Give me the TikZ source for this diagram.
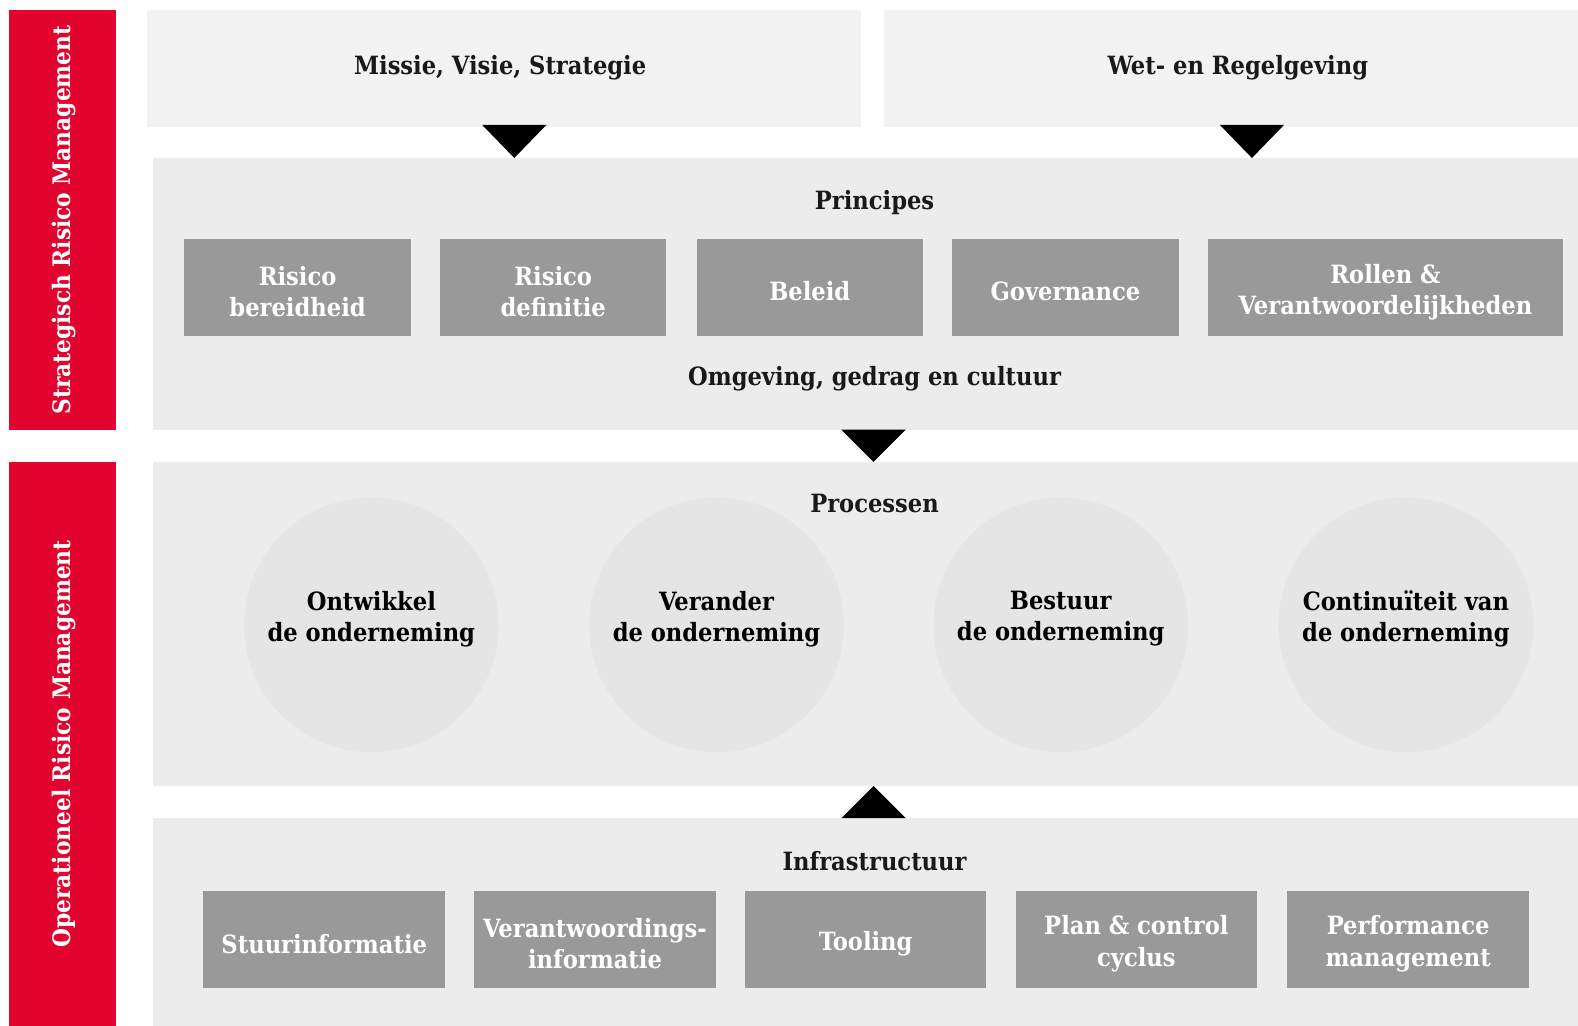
\documentclass[tikz,border=0pt]{standalone}
\usepackage{fontspec}
\setmainfont{DejaVu Serif Condensed}[BoldFont={DejaVu Serif Condensed Bold}]
\usetikzlibrary{positioning}

\definecolor{srmred}{HTML}{E2042E}
\definecolor{toppanel}{HTML}{F2F2F2}
\definecolor{panel}{HTML}{ECECEC}
\definecolor{blok}{HTML}{999999}
\definecolor{rondje}{HTML}{E5E5E5}

\tikzset{
  bar/.style={fill=srmred,inner sep=0pt,anchor=north west},
  bartext/.style={text=white,font=\bfseries\fontsize{24}{29}\selectfont,rotate=90},
  vlak/.style={fill=panel,inner sep=0pt,anchor=north west},
  kop/.style={font=\bfseries\fontsize{25}{30}\selectfont,text=black!90},
  blokje/.style={fill=blok,inner sep=0pt,anchor=north west,minimum height=97pt,text=white,align=center,font=\bfseries\fontsize{25}{31}\selectfont},
  bloktekst/.style={text=white,align=center,font=\bfseries\fontsize{25}{31}\selectfont},
  proces/.style={circle,fill=rondje,minimum size=253pt,inner sep=0pt},
  procestekst/.style={align=center,font=\bfseries\fontsize{25}{31}\selectfont},
  pijl/.style={fill=black}
}

\begin{document}
\begin{tikzpicture}[x=1pt,y=-1pt]
\useasboundingbox (0,0) rectangle (1568,1019);
% red side bars
\node[bar,minimum width=106pt,minimum height=417pt](srm) at (9,10){};
\node[bartext] at ([xshift=1pt]srm.center){Strategisch Risico Management};
\node[bar,minimum width=106pt,minimum height=560pt](orm) at (9,459){};
\node[bartext] at ([xshift=1pt]orm.center){Operationeel Risico Management};
% top boxes
\node[vlak,fill=toppanel,minimum width=709pt,minimum height=116pt](missie) at (146,10){};
\node[kop] at (497,67){Missie, Visie, Strategie};
\node[vlak,fill=toppanel,minimum width=690pt,minimum height=116pt](wet) at (878,10){};
\node[kop] at (1230,67){Wet- en Regelgeving};
% panels
\node[vlak,minimum width=1416pt,minimum height=270pt](principes) at (152,157){};
\node[vlak,minimum width=1416pt,minimum height=322pt](processen) at (152,459){};
\node[vlak,minimum width=1416pt,minimum height=206pt](infra) at (152,813){};
% triangles
\fill[pijl] (479,124) -- (543,124) -- (511,157) -- cycle;
\fill[pijl] (1212,124) -- (1276,124) -- (1244,157) -- cycle;
\fill[pijl] (836,427) -- (900,427) -- (868,459) -- cycle;
\fill[pijl] (836,813) -- (900,813) -- (868,781) -- cycle;
% principes
\node[kop](ptitel) at (869,201){Principes};
\node[blokje,minimum width=225pt](p1) at (183,237){};
\node[blokje,minimum width=225pt](p2) at (437,237){};
\node[blokje,minimum width=225pt](p3) at (692,237){};
\node[blokje,minimum width=225pt](p4) at (946,237){};
\node[blokje,minimum width=353pt](p5) at (1200,237){};
\node[bloktekst] at ([yshift=-4pt]p1.center){Risico\\bereidheid};
\node[bloktekst] at ([yshift=-4pt]p2.center){Risico\\definitie};
\node[bloktekst] at ([yshift=-4pt]p3.center){Beleid};
\node[bloktekst] at ([yshift=-4pt]p4.center){Governance};
\node[bloktekst] at ([yshift=-5pt]p5.center){Rollen \&\\Verantwoordelijkheden};
\node[kop](omgeving) at (869,376){Omgeving, gedrag en cultuur};
% processen
\node[kop](prtitel) at (869,500){Processen};
\node[proces](c1) at (369,621){};
\node[proces](c2) at (712,621){};
\node[proces](c3) at (1054,621){};
\node[proces](c4) at (1397,621){};
\node[procestekst] at ([yshift=6pt]c1.center){Ontwikkel\\de onderneming};
\node[procestekst] at ([yshift=6pt]c2.center){Verander\\de onderneming};
\node[procestekst] at ([yshift=6pt]c3.center){Bestuur\\de onderneming};
\node[procestekst] at ([yshift=6pt]c4.center){Continuïteit van\\de onderneming};
% infrastructuur
\node[kop](ititel) at (869,856){Infrastructuur};
\node[blokje,minimum width=240pt](i1) at (202,885){};
\node[blokje,minimum width=240pt](i2) at (471,885){};
\node[blokje,minimum width=240pt](i3) at (740,885){};
\node[blokje,minimum width=240pt](i4) at (1009,885){};
\node[blokje,minimum width=240pt](i5) at (1279,885){};
\node[bloktekst] at ([yshift=-4pt]i1.center){Stuurinformatie};
\node[bloktekst] at ([yshift=-4pt]i2.center){Verantwoordings-\\informatie};
\node[bloktekst] at ([yshift=-4pt]i3.center){Tooling};
\node[bloktekst] at ([yshift=-4pt]i4.center){Plan \& control\\cyclus};
\node[bloktekst] at ([yshift=-4pt]i5.center){Performance\\management};
\end{tikzpicture}
\end{document}
